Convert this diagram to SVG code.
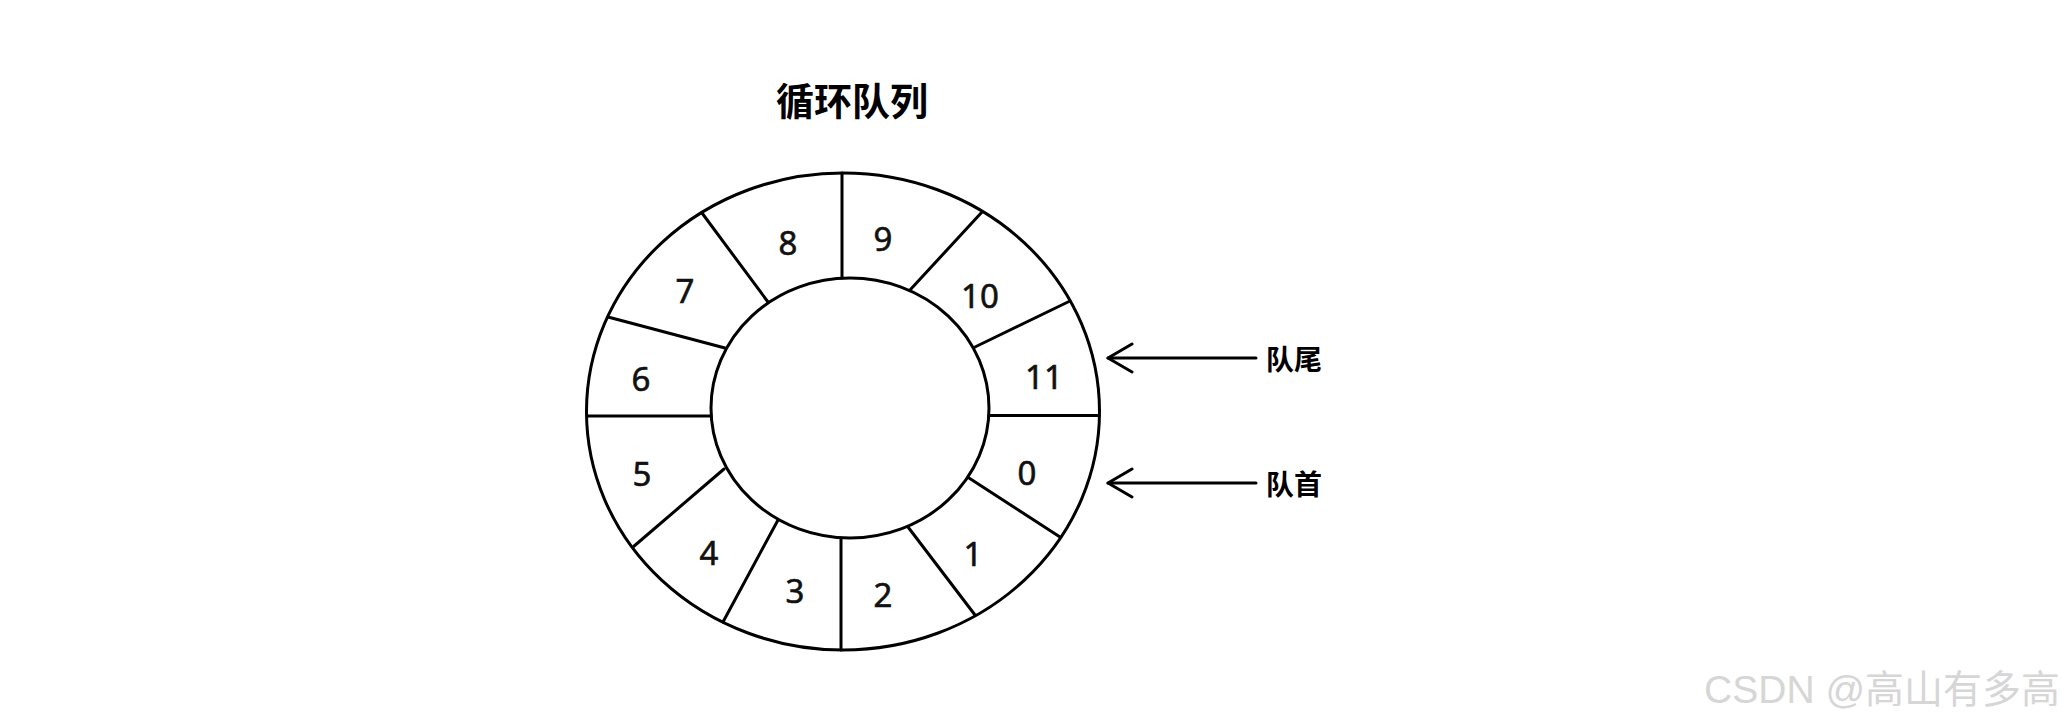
<svg xmlns="http://www.w3.org/2000/svg" width="2065" height="726" viewBox="0 0 2065 726">
  <defs>
    <style>
      .ln { stroke: #000; stroke-width: 3; fill: none; stroke-linecap: round; }
      .num { font-family: "Noto Sans", "Open Sans", sans-serif; font-size: 33px; fill: #111; stroke: #111; stroke-width: 0.6; text-anchor: middle; dominant-baseline: central; }
      .cjk { font-family: "Noto Sans CJK SC", sans-serif; font-weight: bold; fill: #000; dominant-baseline: central; }
    </style>
    <marker id="open" markerUnits="userSpaceOnUse" markerWidth="32" markerHeight="32" refX="29" refY="16" orient="auto" viewBox="0 0 32 32">
      <path d="M5,2 L29,16 L5,30" fill="none" stroke="#000" stroke-width="3" stroke-linecap="round" stroke-linejoin="round"/>
    </marker>
  </defs>
  <rect width="2065" height="726" fill="#fff"/>

  <text id="title" class="cjk" x="852" y="98" font-size="38" text-anchor="middle">循环队列</text>

  <g id="ring">
    <ellipse class="ln" cx="843" cy="411.5" rx="256.5" ry="238.5"/>
    <ellipse class="ln" cx="850" cy="408" rx="139" ry="130"/>
    <line class="ln" x1="842" y1="173" x2="842" y2="278"/>
    <line class="ln" x1="841" y1="538" x2="841" y2="650"/>
    <line class="ln" x1="989" y1="415.5" x2="1099" y2="415.5"/>
    <line class="ln" x1="587" y1="416" x2="711" y2="416"/>
    <line class="ln" x1="702" y1="213" x2="768" y2="302"/>
    <line class="ln" x1="608" y1="317" x2="725" y2="348"/>
    <line class="ln" x1="633" y1="547" x2="724" y2="469"/>
    <line class="ln" x1="723" y1="622" x2="778" y2="520"/>
    <line class="ln" x1="908" y1="527" x2="975" y2="615"/>
    <line class="ln" x1="969" y1="478" x2="1060" y2="537"/>
    <line class="ln" x1="975" y1="347" x2="1070" y2="301"/>
    <line class="ln" x1="910" y1="290" x2="982" y2="212"/>
  </g>

  <g id="cell-0"><text class="num" x="1027" y="472">0</text></g>
  <g id="cell-1"><text class="num" x="973" y="553">1</text></g>
  <g id="cell-2"><text class="num" x="883" y="594">2</text></g>
  <g id="cell-3"><text class="num" x="795" y="590">3</text></g>
  <g id="cell-4"><text class="num" x="709" y="552">4</text></g>
  <g id="cell-5"><text class="num" x="642" y="473">5</text></g>
  <g id="cell-6"><text class="num" x="641" y="378">6</text></g>
  <g id="cell-7"><text class="num" x="685" y="290">7</text></g>
  <g id="cell-8"><text class="num" x="788" y="242">8</text></g>
  <g id="cell-9"><text class="num" x="883" y="238">9</text></g>
  <g id="cell-10"><text class="num" x="980" y="295">10</text></g>
  <g id="cell-11"><text class="num" x="1044" y="376">11</text></g>

  <g id="connectors">
    <line class="ln" x1="1256" y1="358" x2="1108" y2="358" marker-end="url(#open)"/>
    <line class="ln" x1="1256" y1="483" x2="1108" y2="483" marker-end="url(#open)"/>
  </g>

  <g id="label-tail"><text class="cjk" x="1266" y="358" font-size="28">队尾</text></g>
  <g id="label-head"><text class="cjk" x="1266" y="483" font-size="28">队首</text></g>

  <text id="watermark" x="2060" y="689" font-family="'Liberation Sans', 'Noto Sans CJK SC', sans-serif" font-size="39" fill="#d6d6d6" text-anchor="end" dominant-baseline="central">CSDN @高山有多高</text>
</svg>
